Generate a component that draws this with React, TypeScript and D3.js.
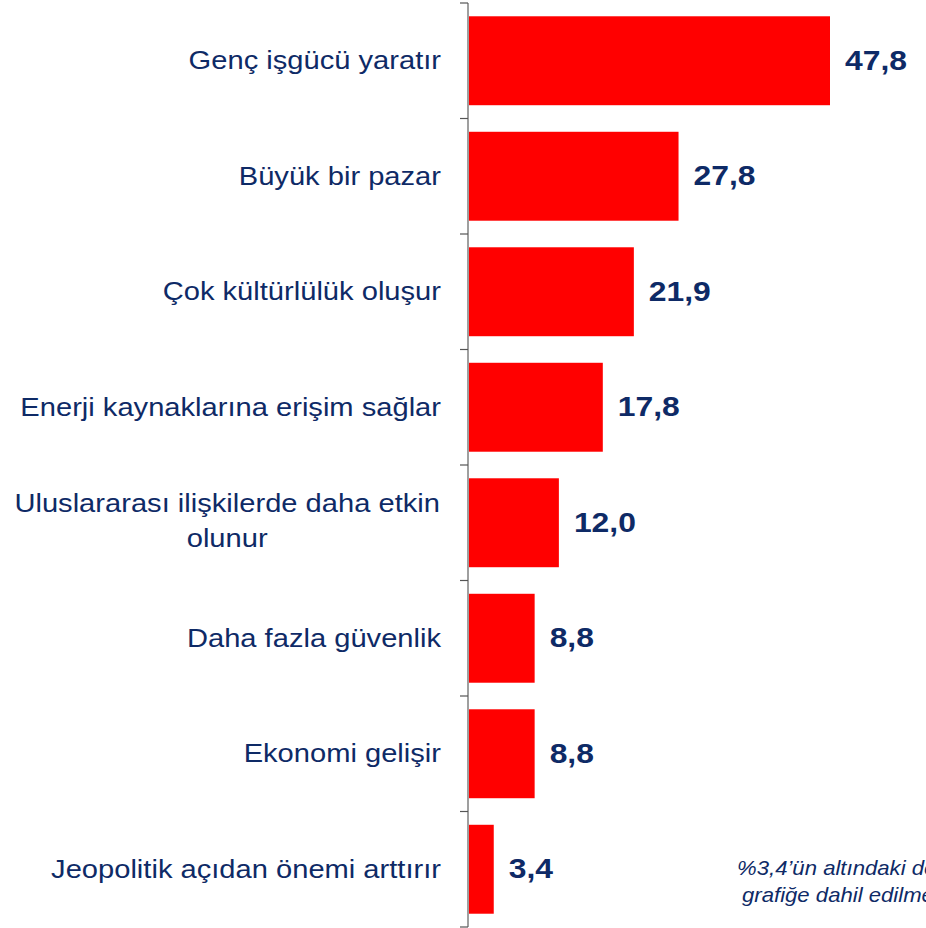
import React, { useEffect, useRef } from "react";
import * as d3 from "d3";

const categories: string[][] = [
  ["Genç işgücü yaratır"],
  ["Büyük bir pazar"],
  ["Çok kültürlülük oluşur"],
  ["Enerji kaynaklarına erişim sağlar"],
  ["Uluslararası ilişkilerde daha etkin", "olunur"],
  ["Daha fazla güvenlik"],
  ["Ekonomi gelişir"],
  ["Jeopolitik açıdan önemi arttırır"],
];
const values: number[] = [47.8, 27.8, 21.9, 17.8, 12.0, 8.8, 8.8, 3.4];
const valueLabels: string[] = ["47,8", "27,8", "21,9", "17,8", "12,0", "8,8", "8,8", "3,4"];
const footnote: string[] = ["%3,4’ün altındaki değerler", "grafiğe dahil edilmemiştir"];

const W = 926;
const H = 928;
const NAVY = "#0e2a66";
const FONT = "Liberation Sans, Arial, sans-serif";

export default function App() {
  const ref = useRef<SVGSVGElement | null>(null);

  useEffect(() => {
    const svg = d3.select(ref.current);
    svg.selectAll("*").remove();

    const x0 = 468;
    const x = d3.scaleLinear().domain([0, 47.8]).range([x0, 830]);
    const idx = categories.map((_, i) => String(i));
    const y = d3.scaleBand().domain(idx).range([3, 927]).paddingInner(0.23).paddingOuter(0.115);
    const yb = d3.scaleBand().domain(idx).range([3, 927]);

    // bars
    svg
      .selectAll("rect.bar")
      .data(values)
      .join("rect")
      .attr("class", "bar")
      .attr("x", x0 + 1)
      .attr("y", (_, i) => y(String(i))!)
      .attr("width", (d) => x(d) - x0 - 1)
      .attr("height", y.bandwidth())
      .attr("fill", "#ff0000");

    // axis line and ticks
    const g = svg.append("g");
    g.append("line")
      .attr("x1", x0).attr("x2", x0)
      .attr("y1", 3).attr("y2", 927)
      .attr("stroke", "#7f7f7f").attr("stroke-width", 1.5);
    const tickYs = idx.map((k) => yb(k)!).concat([927]);
    g.selectAll("line.tick")
      .data(tickYs)
      .join("line")
      .attr("class", "tick")
      .attr("x1", x0 - 8).attr("x2", x0)
      .attr("y1", (d) => d).attr("y2", (d) => d)
      .attr("stroke", "#555").attr("stroke-width", 1.2);

    // value labels (horizontally stretched like the reference)
    const vsx = 1.18;
    svg
      .selectAll("text.val")
      .data(values)
      .join("text")
      .attr("class", "val")
      .attr("transform", (d, i) => `translate(${x(d) + 15},${yb(String(i))! + yb.bandwidth() / 2 + 9}) scale(${vsx},1)`)
      .attr("font-family", FONT)
      .attr("font-weight", "bold")
      .attr("font-size", 27)
      .attr("fill", NAVY)
      .text((_, i) => valueLabels[i]);

    // category labels
    const csx = 1.12;
    const cfs = 26;
    categories.forEach((lines, i) => {
      const cy = yb(String(i))! + yb.bandwidth() / 2;
      const n = lines.length;
      if (n === 1) {
        svg
          .append("text")
          .attr("transform", `translate(441,${cy + 8.5}) scale(${csx},1)`)
          .attr("text-anchor", "end")
          .attr("font-family", FONT)
          .attr("font-size", cfs)
          .attr("fill", NAVY)
          .text(lines[0]);
      } else {
        const lh = 35;
        const t = svg
          .append("text")
          .attr("text-anchor", "middle")
          .attr("font-family", FONT)
          .attr("font-size", cfs)
          .attr("fill", NAVY);
        const spans = lines.map((ln, j) =>
          t.append("tspan")
            .attr("x", 0)
            .attr("y", (j - (n - 1) / 2) * lh)
            .text(ln)
        );
        const widths = spans.map((s) => (s.node() as SVGTextContentElement).getComputedTextLength());
        const maxW = Math.max(...widths) * csx;
        const cx = 441 - maxW / 2 - 1;
        t.attr("transform", `translate(${cx},${cy + 7}) scale(${csx},1)`);
      }
    });

    // footnote
    const fx = [737, 742];
    const fy = [875, 902];
    footnote.forEach((ln, j) => {
      svg.append("text")
        .attr("transform", `translate(${fx[j]},${fy[j]}) scale(1.08,1)`)
        .attr("font-family", FONT)
        .attr("font-style", "italic")
        .attr("font-size", 20.5)
        .attr("fill", NAVY)
        .text(ln);
    });
  }, []);

  return (
    <svg
      ref={ref}
      width={W}
      height={H}
      style={{ position: "absolute", left: 0, top: 0, display: "block", background: "#fff" }}
    />
  );
}
